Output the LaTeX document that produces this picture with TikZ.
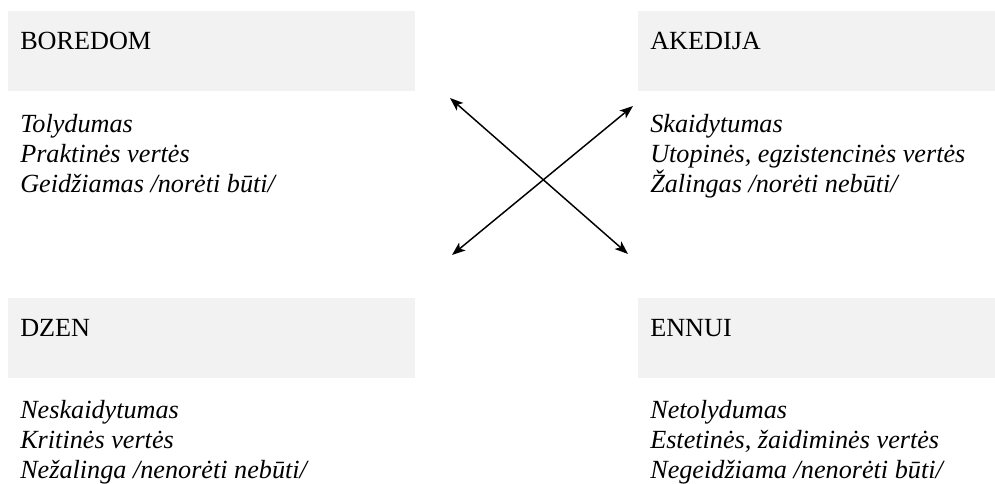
\documentclass[tikz,border=0pt]{standalone}
\usepackage{fontspec}
\setmainfont{Liberation Serif}
\usepackage{tikz}
\usetikzlibrary{arrows.meta, positioning}
\definecolor{boxgray}{RGB}{242,242,242}
\tikzset{
    cat_box/.style={
        rectangle, fill=boxgray, anchor=north west,
        inner xsep=9pt, inner ysep=0pt, text height=28.5pt, text depth=31.5pt,
        align=left, font=\fontsize{19.65}{22.5}\selectfont
    },
    desc_txt/.style={
        anchor=north west, inner sep=0pt, align=left,
        font=\fontsize{19.65}{22.5}\selectfont\itshape
    },
    link_arrow/.style={
        <->, >={Stealth[length=10pt, width=7.5pt, inset=2.5pt]}, line width=1.1pt, draw=black
    }
}

\begin{document}
\begin{tikzpicture}[x=0.75pt, y=-0.75pt]
    \useasboundingbox (0,0) rectangle (995,484);

    \node[cat_box, text width=287.25pt] (boredom) at (8, 11) {BOREDOM};
    \node[cat_box, text width=249.75pt] (akedija) at (638, 11) {AKEDIJA};
    \node[cat_box, text width=287.25pt] (dzen) at (8, 298) {DZEN};
    \node[cat_box, text width=249.75pt] (ennui) at (638, 298) {ENNUI};

    \node[desc_txt] (boredomtxt) at (20, 114) {Tolydumas\\Praktinės vertės\\Geidžiamas /norėti būti/};
    \node[desc_txt] (akedijatxt) at (650, 114) {Skaidytumas\\Utopinės, egzistencinės vertės\\Žalingas /norėti nebūti/};
    \node[desc_txt] (dzentxt) at (20, 400) {Neskaidytumas\\Kritinės vertės\\Nežalinga /nenorėti nebūti/};
    \node[desc_txt] (ennuitxt) at (650, 400) {Netolydumas\\Estetinės, žaidiminės vertės\\Negeidžiama /nenorėti būti/};

    \coordinate (bo_end) at (450, 98);
    \coordinate (en_end) at (628, 254);
    \coordinate (dz_end) at (452, 255);
    \coordinate (ak_end) at (633, 106);

    \draw[link_arrow] (bo_end) -- (en_end);
    \draw[link_arrow] (dz_end) -- (ak_end);
\end{tikzpicture}
\end{document}
